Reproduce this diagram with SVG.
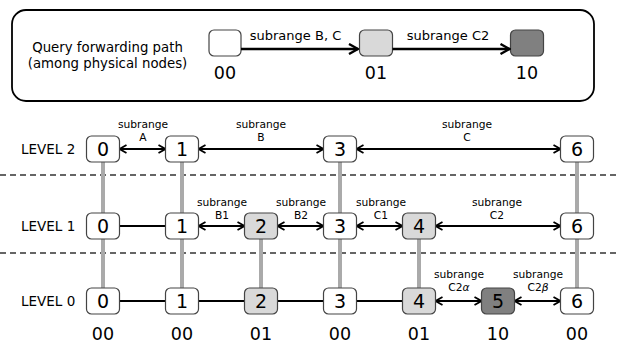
<svg xmlns="http://www.w3.org/2000/svg" width="618" height="340" viewBox="0 0 618 340">
<style>
text{font-family:"DejaVu Sans","Liberation Sans",sans-serif;fill:#000}
.nd{stroke:#444;stroke-width:1.2}
.w{fill:#fff}.lg{fill:#d9d9d9}.dg{fill:#808080}
.num{font-size:19px;text-anchor:middle}
.lbl{font-size:10.7px;text-anchor:middle}
.lvl{font-size:13.5px}
.bin{font-size:17.5px;text-anchor:middle}
.vl{stroke:#aaa;stroke-width:4}
.ln{stroke:#000;stroke-width:2;fill:none}
.ar{stroke:#000;stroke-width:1.8;fill:none;marker-start:url(#ah);marker-end:url(#ah)}
.dash{stroke:#333;stroke-width:1.5;stroke-dasharray:6 4}
</style>
<defs>
<marker id="ah" viewBox="0 0 10 10" refX="9" refY="5" markerWidth="10" markerHeight="10" markerUnits="userSpaceOnUse" orient="auto-start-reverse">
<path d="M2,1 L9,5 L2,9" fill="none" stroke="#000" stroke-width="1.8"/>
</marker>
<marker id="ah2" viewBox="0 0 12 12" refX="11" refY="6" markerWidth="12" markerHeight="12" markerUnits="userSpaceOnUse" orient="auto">
<path d="M2,1 L11,6 L2,11" fill="none" stroke="#000" stroke-width="2.4"/>
</marker>
</defs>

<g id="legend">
<rect x="12" y="10" width="582" height="91" rx="14" fill="#fff" stroke="#000" stroke-width="1.8"/>
<text x="107.5" y="52" font-size="13.3" text-anchor="middle">Query forwarding path</text>
<text x="107.5" y="68" font-size="13.3" text-anchor="middle">(among physical nodes)</text>
<g id="p00"><rect class="nd w" x="209" y="30" width="32" height="26" rx="5"/><text class="bin" x="225" y="79">00</text></g>
<g id="p01"><rect class="nd lg" x="359.5" y="30" width="33" height="26" rx="5"/><text class="bin" x="376" y="79">01</text></g>
<g id="p10"><rect class="nd dg" x="510.5" y="30" width="33" height="26" rx="5"/><text class="bin" x="527" y="79">10</text></g>
<line x1="241" y1="49" x2="358" y2="49" stroke="#000" stroke-width="2.4" marker-end="url(#ah2)"/>
<line x1="392.5" y1="49" x2="509.5" y2="49" stroke="#000" stroke-width="2.4" marker-end="url(#ah2)"/>
<text x="295.5" y="40" font-size="13" text-anchor="middle">subrange B, C</text>
<text x="448" y="40" font-size="13" text-anchor="middle">subrange C2</text>
</g>

<g id="separators">
<line class="dash" x1="0" y1="175" x2="618" y2="175"/>
<line class="dash" x1="0" y1="253" x2="618" y2="253"/>
</g>

<g id="levels">
<text class="lvl" x="21" y="154">LEVEL 2</text>
<text class="lvl" x="21" y="231">LEVEL 1</text>
<text class="lvl" x="21" y="306">LEVEL 0</text>
</g>

<g id="connectors">
<line class="vl" x1="103" y1="162" x2="103" y2="288"/>
<line class="vl" x1="182" y1="162" x2="182" y2="288"/>
<line class="vl" x1="340" y1="162" x2="340" y2="288"/>
<line class="vl" x1="577" y1="162" x2="577" y2="288"/>
<line class="vl" x1="261" y1="239" x2="261" y2="288"/>
<line class="vl" x1="419" y1="239" x2="419" y2="288"/>
<line class="ar" x1="119.5" y1="149" x2="165.5" y2="149"/>
<line class="ar" x1="198.5" y1="149" x2="323.5" y2="149"/>
<line class="ar" x1="356.5" y1="149" x2="560.5" y2="149"/>
<line class="ln" x1="119.5" y1="226" x2="165.5" y2="226"/>
<line class="ar" x1="198.5" y1="226" x2="244.5" y2="226"/>
<line class="ar" x1="277.5" y1="226" x2="323.5" y2="226"/>
<line class="ar" x1="356.5" y1="226" x2="402.5" y2="226"/>
<line class="ar" x1="435.5" y1="226" x2="560.5" y2="226"/>
<line class="ln" x1="119.5" y1="301" x2="402.5" y2="301"/>
<line class="ar" x1="435.5" y1="301" x2="481.5" y2="301"/>
<line class="ar" x1="514.5" y1="301" x2="560.5" y2="301"/>
<text class="lbl" x="143" y="128">subrange</text><text class="lbl" x="143" y="141">A</text>
<text class="lbl" x="261" y="128">subrange</text><text class="lbl" x="261" y="141">B</text>
<text class="lbl" x="467" y="128">subrange</text><text class="lbl" x="467" y="141">C</text>
<text class="lbl" x="222" y="206">subrange</text><text class="lbl" x="222" y="219">B1</text>
<text class="lbl" x="301" y="206">subrange</text><text class="lbl" x="301" y="219">B2</text>
<text class="lbl" x="381" y="206">subrange</text><text class="lbl" x="381" y="219">C1</text>
<text class="lbl" x="497" y="206">subrange</text><text class="lbl" x="497" y="219">C2</text>
<text class="lbl" x="459" y="278">subrange</text><text class="lbl" x="459" y="291">C2<tspan font-style="italic">α</tspan></text>
<text class="lbl" x="538" y="278">subrange</text><text class="lbl" x="538" y="291">C2<tspan font-style="italic">β</tspan></text>
</g>

<g id="n2-0"><rect class="nd w" x="86.5" y="136" width="33" height="26" rx="5"/><text class="num" x="103" y="156">0</text></g>
<g id="n2-1"><rect class="nd w" x="165.5" y="136" width="33" height="26" rx="5"/><text class="num" x="182" y="156">1</text></g>
<g id="n2-3"><rect class="nd w" x="323.5" y="136" width="33" height="26" rx="5"/><text class="num" x="340" y="156">3</text></g>
<g id="n2-6"><rect class="nd w" x="560.5" y="136" width="33" height="26" rx="5"/><text class="num" x="577" y="156">6</text></g>

<g id="n1-0"><rect class="nd w" x="86.5" y="213" width="33" height="26" rx="5"/><text class="num" x="103" y="233">0</text></g>
<g id="n1-1"><rect class="nd w" x="165.5" y="213" width="33" height="26" rx="5"/><text class="num" x="182" y="233">1</text></g>
<g id="n1-2"><rect class="nd lg" x="244.5" y="213" width="33" height="26" rx="5"/><text class="num" x="261" y="233">2</text></g>
<g id="n1-3"><rect class="nd w" x="323.5" y="213" width="33" height="26" rx="5"/><text class="num" x="340" y="233">3</text></g>
<g id="n1-4"><rect class="nd lg" x="402.5" y="213" width="33" height="26" rx="5"/><text class="num" x="419" y="233">4</text></g>
<g id="n1-6"><rect class="nd w" x="560.5" y="213" width="33" height="26" rx="5"/><text class="num" x="577" y="233">6</text></g>

<g id="n0-0"><rect class="nd w" x="86.5" y="288" width="33" height="26" rx="5"/><text class="num" x="103" y="308">0</text></g>
<g id="n0-1"><rect class="nd w" x="165.5" y="288" width="33" height="26" rx="5"/><text class="num" x="182" y="308">1</text></g>
<g id="n0-2"><rect class="nd lg" x="244.5" y="288" width="33" height="26" rx="5"/><text class="num" x="261" y="308">2</text></g>
<g id="n0-3"><rect class="nd w" x="323.5" y="288" width="33" height="26" rx="5"/><text class="num" x="340" y="308">3</text></g>
<g id="n0-4"><rect class="nd lg" x="402.5" y="288" width="33" height="26" rx="5"/><text class="num" x="419" y="308">4</text></g>
<g id="n0-5"><rect class="nd dg" x="481.5" y="288" width="33" height="26" rx="5"/><text class="num" x="498" y="308">5</text></g>
<g id="n0-6"><rect class="nd w" x="560.5" y="288" width="33" height="26" rx="5"/><text class="num" x="577" y="308">6</text></g>

<g id="bits">
<text class="bin" x="103" y="339.5">00</text>
<text class="bin" x="182" y="339.5">00</text>
<text class="bin" x="261" y="339.5">01</text>
<text class="bin" x="340" y="339.5">00</text>
<text class="bin" x="419" y="339.5">01</text>
<text class="bin" x="498" y="339.5">10</text>
<text class="bin" x="577" y="339.5">00</text>
</g>
</svg>
